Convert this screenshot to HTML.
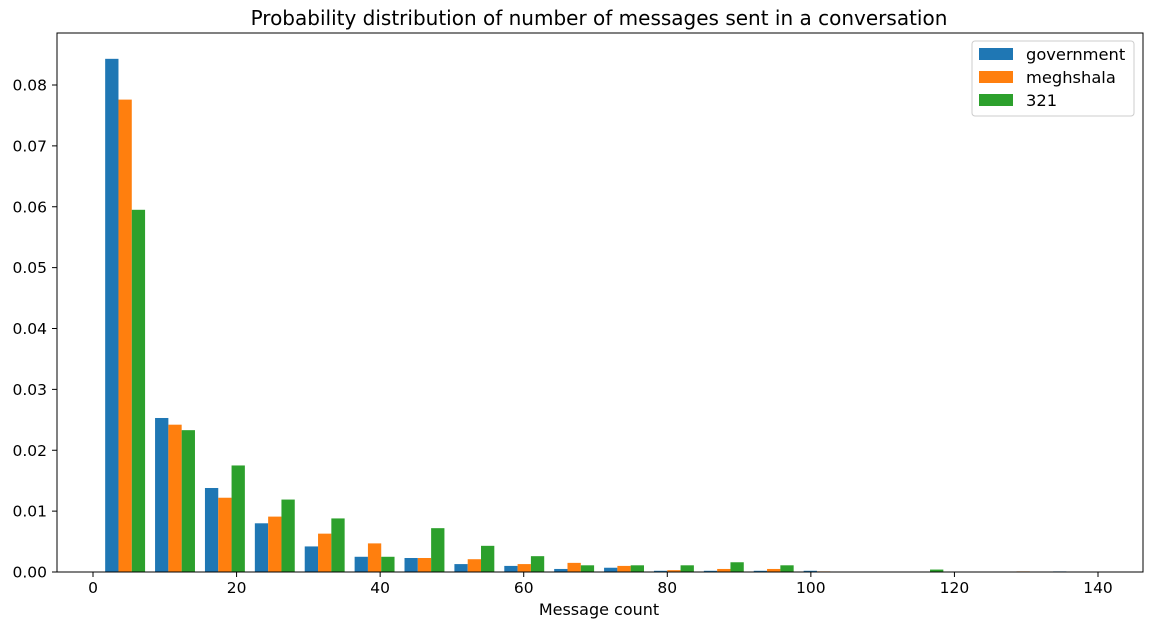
<!DOCTYPE html>
<html><head><meta charset="utf-8"><style>
body{margin:0;background:#fff;font-family:"Liberation Sans","DejaVu Sans",sans-serif}
</style></head><body>
<svg id="c" width="1151" height="627" xmlns="http://www.w3.org/2000/svg" font-family="DejaVu Sans, Liberation Sans, sans-serif">
<text x="599" y="25" font-size="20" text-anchor="middle">Probability distribution of number of messages sent in a conversation</text>
<g id="bars"></g>
<g id="axes"></g>
<text x="599" y="615" font-size="16" text-anchor="middle">Message count</text>
<g>
<rect x="972" y="41" width="162" height="75" fill="#fff" stroke="#ccc" rx="3"/>
<g><rect x="979" y="48" width="34" height="12" fill="#1f77b4"/><text x="1026" y="60" font-size="16.3">government</text></g>
<g><rect x="979" y="71" width="34" height="12" fill="#ff7f0e"/><text x="1026" y="83" font-size="16.3">meghshala</text></g>
<g><rect x="979" y="94" width="34" height="12" fill="#2ca02c"/><text x="1026" y="106" font-size="16.3">321</text></g>
</g>
</svg>
<script>
const binStart = 1, binWidth = 6.95;
const seriesNames = ["government","meghshala","321"];
const colors = ["#1f77b4","#ff7f0e","#2ca02c"];
const government = [0.0843,0.0253,0.0138,0.0080,0.0042,0.0025,0.0023,0.0013,0.0010,0.0005,0.0007,0.0002,0.0002,0.0002,0.0002,0,0,0,0,0.0001];
const meghshala  = [0.0776,0.0242,0.0122,0.0091,0.0063,0.0047,0.0023,0.0021,0.0013,0.0015,0.0010,0.0003,0.0005,0.0005,0.0001,0,0,0,0.0001,0];
const s321       = [0.0595,0.0233,0.0175,0.0119,0.0088,0.0025,0.0072,0.0043,0.0026,0.0011,0.0011,0.0011,0.0016,0.0011,0,0,0.0004,0,0,0];
const xTicks = [0,20,40,60,80,100,120,140];
const yTicks = [0,0.01,0.02,0.03,0.04,0.05,0.06,0.07,0.08];
const yTickLabels = ["0.00","0.01","0.02","0.03","0.04","0.05","0.06","0.07","0.08"];

const L=57,R=1143,T=33,B=572;
const xs=v=>93+(v)*(1098-93)/140;
const ys=v=>B-v*(B-85)/0.08;
const NS="http://www.w3.org/2000/svg";
const bars=document.getElementById('bars'), axes=document.getElementById('axes');
function mk(tag,attrs,parent){const e=document.createElementNS(NS,tag);for(const k in attrs)e.setAttribute(k,attrs[k]);parent.appendChild(e);return e;}
const all=[government,meghshala,s321];
const bw=binWidth*0.8/3;
all.forEach((ser,si)=>{ser.forEach((v,i)=>{
  const x0=binStart+i*binWidth+binWidth*0.1+si*bw;
  const r=mk('rect',{x:xs(x0),y:ys(v),width:xs(x0+bw)-xs(x0),height:B-ys(v),fill:colors[si]},bars);
  
  
});});
const frame=mk('rect',{x:L,y:T,width:R-L,height:B-T,fill:'none',stroke:'#000','stroke-width':1},axes);


xTicks.forEach(t=>{
  const x=xs(t);
  mk('line',{x1:x,x2:x,y1:B,y2:B+5,stroke:'#000'},axes);
  const tx=mk('text',{x:x,y:B+21,'font-size':15.5,'text-anchor':'middle'},axes);
  tx.textContent=t;
  
  
});
yTicks.forEach((t,i)=>{
  const y=ys(t);
  mk('line',{x1:L-5,x2:L,y1:y,y2:y,stroke:'#000'},axes);
  const tx=mk('text',{x:L-10,y:y+5.5,'font-size':15.5,'text-anchor':'end'},axes);
  tx.textContent=yTickLabels[i];
  
  
});
</script>
</body></html>
